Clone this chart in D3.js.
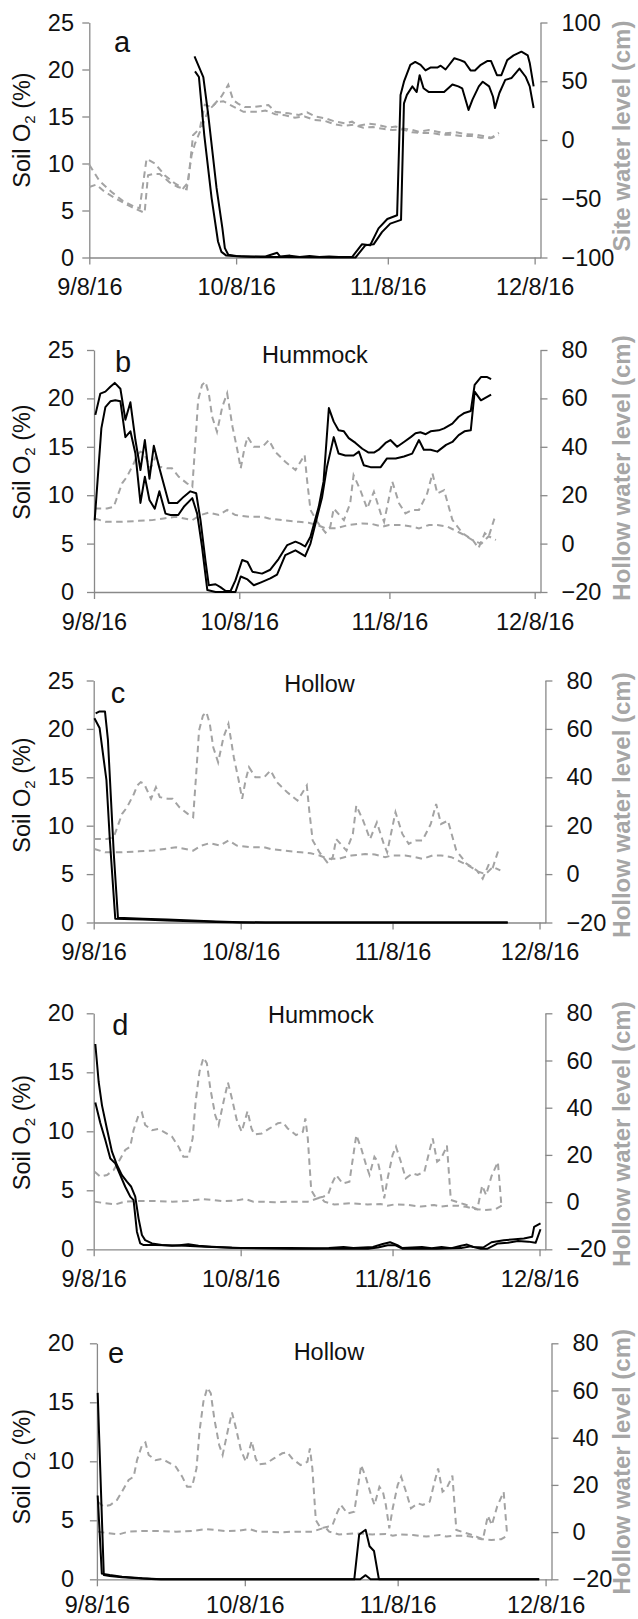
<!DOCTYPE html>
<html>
<head>
<meta charset="utf-8">
<script src="https://cdn.jsdelivr.net/npm/d3@7"></script>
<style>
  body { margin: 0; background: #fff; }
  svg { display: block; font-family: "Liberation Sans", Arial, sans-serif; }
</style>
</head>
<body>
<svg id="fig" width="638" height="1619"></svg>
<script>
// Global settings
let axisGrey = "#898989"
let waterGrey = "#a3a3a3"
let fontSize = 23.5

// x values are days counted from 9/8/16
let startDate = new Date(2016, 8, 8)
let axisDays = 92.2
let dateTicks = ["9/8/16", "10/8/16", "11/8/16", "12/8/16"]
let o2TicksTall = [0, 5, 10, 15, 20, 25]
let o2TicksShort = [0, 5, 10, 15, 20]
let siteTicks = [-100, -50, 0, 50, 100]
let hollowTicks = [-20, 0, 20, 40, 60, 80]

// Panel a: soil O2 (%) and site water level (cm)
let aO2First = [[21.5,21.4],[23.3,19.2],[24.3,15.2],[26,7.4],[27.2,3.1],[27.7,1.0],[28.4,0.3],[30,0.15],[33,0.1],[36,0.1],[38.4,0.5],[39,0.1],[41,0.2],[43,0.05],[45,0.15],[47,0.05],[49,0.1],[51,0.05],[53.7,0.05],[55.7,1.4],[57.4,1.3],[59.1,3.1],[60.9,4.1],[62.9,4.5],[63.6,17.3],[64.3,18.7],[65.6,20.5],[66.6,20.8],[67.7,20.5],[68.7,19.9],[69.7,20.2],[71.1,20.2],[71.8,20.4],[72.8,20.0],[74.6,21.2],[75.8,21.0],[76.7,20.8],[77.9,19.9],[78.8,19.9],[80,20.5],[81.3,20.9],[82.1,20.9],[83.3,19.4],[84.2,19.4],[85.4,21.0],[86.7,21.5],[88.3,21.9],[89.6,21.5],[90,20.7],[90.8,18.2]]
let aO2Second = [[21.6,19.8],[22.4,19.2],[23.5,13.0],[25,6.3],[26.3,1.7],[27,0.6],[28,0.2],[31,0.1],[35,0.05],[40,0.05],[45,0.02],[50,0],[54.4,0],[56.4,1.3],[58.1,1.4],[59.8,2.7],[61.5,3.6],[63.7,4.0],[64.3,16.4],[64.9,17.3],[66,18.2],[66.9,17.6],[67.5,19.4],[68.3,18.0],[69.4,17.6],[70.8,17.6],[72.5,17.6],[74.2,18.4],[75.4,18.2],[76.2,18.0],[77.5,15.7],[78.3,16.8],[79.6,18.2],[80.4,18.7],[81.7,18.2],[82.5,17.1],[82.9,15.9],[83.8,17.5],[85,18.9],[86.3,19.1],[87.9,20.1],[89.2,19.2],[90,18.2],[90.8,15.9]]
let aWaterFirst = [[0,-21],[2.1,-35],[4.5,-44],[6.9,-52],[9.3,-57],[10.3,-58],[11.7,-16],[13.4,-20],[15.4,-30],[17.5,-37],[19.2,-41],[20.2,-36],[21.2,4],[22.6,10],[23.6,30],[25,28],[27,37],[28.4,47],[29.4,34],[30.4,31],[31.8,28],[33.5,28],[36.6,29.8],[38,24.1],[40.7,22.7],[42.8,21.3],[44.5,23.6],[46.2,19.9],[48.2,18.5],[50.3,15.6],[52.3,14.2],[53.7,15.6],[55,12.2],[57.1,13.9],[59.1,12.8],[61.2,10.5],[62.6,11.4],[63.9,9.9],[66,8.5],[67.3,7.1],[69.4,8.5],[71.1,7.1],[72.8,5.7],[75,6.5],[77,5],[79,4.5],[80.5,3.4],[82.2,2],[83.7,6.2]]
let aWaterSecond = [[0,-40],[1.4,-38],[3.1,-44],[5.9,-51],[8.6,-57],[11.3,-62],[12,-30],[13,-29],[14.4,-29],[16.4,-36],[18.1,-40],[19.9,-42],[20.9,-13],[21.6,-3],[22.9,10],[24.3,25],[26,32],[27.4,33],[28.7,30],[30.1,27],[31.5,24],[34.5,24],[36,25],[38,22],[40,21],[42,19],[44,20],[46,17],[48,16.5],[50,13.5],[52,12],[54,13],[56,10.5],[58,11],[60,9.5],[62,8.5],[64,9],[66,6.5],[68,6],[70,6],[72,4.5],[74,4.5],[76,3.5],[78,3.5],[80,2],[82,1.5],[83.7,4]]

// Panel b: hummock O2
let bO2First = [[0.28,18.3],[1.31,20.5],[2.35,20.7],[3.38,21.2],[4.28,21.6],[5.45,21.0],[6.48,17.8],[7.52,19.6],[8.55,15.7],[9.59,12.6],[10.5,15.7],[11.45,11.7],[12.35,15.1],[13.5,12.8],[15.45,9.2],[17.2,9.2],[18.55,9.85],[19.9,10.4],[21.1,10.2],[22,7.4],[23,3.3],[23.7,0.7],[25.1,0.8],[26.1,0.5],[27.2,0.1],[28.2,0.1],[29.2,1.2],[30.6,3.3],[31.7,3.1],[32.7,2.1],[34.7,1.9],[36.4,2.3],[38.1,3.4],[39.9,4.85],[41.6,5.2],[42.6,5.0],[43.6,4.7],[44.7,5.7],[46.4,8.8],[47.4,11.4],[48.5,19.0],[49.5,17.6],[50.5,16.7],[51.6,16.6],[52.6,15.9],[54,15.4],[55.4,14.8],[56.7,14.4],[57.8,14.4],[58.8,14.7],[60.2,15.4],[61.2,15.7],[62.6,15.0],[64,15.5],[65.4,16.0],[66.4,16.4],[67.4,16.5],[68.5,16.3],[69.5,16.6],[71.2,16.7],[72.3,16.9],[74,17.4],[75.3,18.1],[76.5,18.5],[77.8,18.7],[78.6,21.4],[79.9,22.2],[81.2,22.2],[82,22.0]]
let bO2Second = [[0.14,7.4],[1.52,16.9],[2.35,19.1],[3.38,19.7],[4.4,19.8],[5.45,19.7],[6.48,16.0],[7.52,16.6],[8.55,14.3],[9.59,9.2],[10.5,11.9],[11.45,9.5],[12.55,8.6],[13.5,10.4],[14.76,8.1],[15.8,7.95],[17.4,7.95],[18.55,8.8],[20.3,9.7],[21.3,8.1],[22.3,4.7],[23.4,0.2],[25.1,0],[26.8,0],[28.2,0],[29.2,0],[30.3,1.6],[31.7,1.3],[33,0.7],[34.5,1.0],[36.4,1.4],[37.8,1.8],[39.5,3.8],[41.6,4.3],[43.6,3.7],[44.7,5.0],[47.1,9.8],[48.1,12.9],[49.5,16.0],[50.5,14.3],[51.9,14.1],[53.6,14.1],[54.7,14.5],[55.7,13.1],[57.1,12.9],[59.2,12.9],[60.5,13.8],[62.3,13.8],[64,14.0],[65.7,14.3],[67.1,15.7],[68.1,14.7],[69.5,14.7],[70.9,14.5],[72.7,15.2],[74,15.5],[75.3,16.2],[76.5,16.6],[77.8,16.7],[78.6,20.7],[79.9,19.8],[82,20.4]]

// Panels b and c: hollow water level (cm)
let waterBC1 = [[0.14,14.5],[2.7,14.5],[4.07,15.2],[5.8,24.9],[6.8,27.6],[8.2,33.1],[8.9,36.6],[9.6,38],[10.3,37.3],[11.7,31.1],[12.7,35.9],[13.5,31.8],[15.1,31.1],[16.1,31.1],[17.5,27.6],[19.2,24.9],[20.3,23.5],[20.97,42.8],[21.5,59.3],[22.3,65.5],[23.0,66.9],[23.7,62.1],[24.4,52.4],[25.4,46.2],[26.5,56.6],[27.5,62.1],[28.6,48.3],[29.6,38.7],[30.3,31.1],[31,38.7],[31.7,44.2],[33,40],[34.8,40],[36.1,42.8],[37.4,38],[39.5,33.8],[41.6,30.4],[43.5,36.6],[44,26.2],[44.7,13.9],[46.1,9.0],[47.8,4.5],[48.8,7.0],[49.5,14.5],[51.6,9.7],[52.9,16.6],[53.6,28.3],[55,22.1],[56.4,14.5],[57.8,21.4],[59.2,12.5],[59.9,9.0],[61.6,25.6],[63,16.6],[64.3,12.5],[65.7,13.9],[67.1,13.9],[68.8,20.7],[69.9,29.0],[70.9,20.7],[72.3,22.1],[74,9.8],[76.1,4.3],[78.2,1.5],[79.4,-1.9],[80.7,4.3],[81.5,2.9],[82.8,11.1]]
let waterBC2 = [[0.14,10.4],[2.35,9.0],[5.8,9.0],[9.2,9.4],[12,9.7],[14.4,10.4],[16.8,11.1],[20.3,9.7],[22,11.8],[23.7,12.8],[25.8,11.8],[27.5,13.9],[29.2,11.8],[32,11.1],[34.8,11.1],[36.1,10.4],[38.8,9.7],[42.3,9.0],[44.3,8.6],[46.1,7.7],[47.8,6.3],[49.9,6.3],[52.6,7.7],[55.4,8.3],[57.4,8.1],[59.5,7.0],[60.9,7.7],[63.6,7.7],[65.7,7.0],[67.1,6.3],[69.2,7.7],[70.9,7.7],[73,7.0],[74.5,5.5],[76.5,3.5],[78.5,1],[80,0],[81.5,3],[83,1.5]]

// Panel c: hollow O2
let cO2First = [[0.4,21.6],[1.2,21.8],[2.3,21.8],[2.9,18.9],[4.1,7.1],[4.95,0.5],[10,0.4],[15,0.3],[20,0.2],[25,0.1],[30,0.03],[35,0],[84.5,0]]
let cO2Second = [[0.15,21.1],[1.2,20.1],[2.6,14.7],[3.3,8.5],[4.4,0.4],[10,0.3],[15,0.2],[20,0.12],[25,0.05],[30,0],[84.5,0]]

// Panel d: hummock O2
let dO2First = [[0.33,17.4],[1.01,14.2],[1.69,12.2],[2.71,10.2],[3.73,8.27],[4.75,7.14],[5.76,6.29],[6.78,5.73],[7.66,5.3],[8.48,4.46],[9.16,2.6],[9.84,1.21],[10.5,0.78],[11.9,0.5],[13.9,0.36],[16,0.3],[17.5,0.35],[19.3,0.42],[21.4,0.3],[24.1,0.22],[28.2,0.13],[32,0.1],[36,0.1],[40,0.1],[45,0.08],[48,0.1],[51,0.2],[53,0.12],[57,0.2],[59,0.45],[60.5,0.6],[62,0.35],[63,0.1],[65,0.15],[67,0.2],[69,0.1],[71,0.2],[73,0.1],[75,0.3],[76.2,0.4],[77.5,0.2],[79.5,0.15],[81.2,0.6],[83.7,0.77],[85.4,0.83],[87.8,0.92],[89.5,1.06],[89.9,1.9],[91.2,2.2]]
let dO2Second = [[0.33,12.45],[1.35,10.7],[2.37,9.26],[3.39,7.7],[4.4,7.28],[5.42,6.29],[6.44,5.3],[7.46,4.46],[8.14,4.17],[8.82,1.49],[9.5,0.5],[10.2,0.36],[12.6,0.36],[18.7,0.3],[22.7,0.22],[30,0.1],[40,0.05],[50,0.05],[56,0.05],[58,0.15],[60,0.35],[61.5,0.35],[63,0.05],[70,0.05],[75,0.1],[77,0.25],[79,0.05],[80.4,0.05],[82.5,0.5],[84.5,0.55],[86.6,0.7],[88.7,0.65],[90.2,0.55],[91.2,1.7]]

// Panels d and e: hollow water level (cm)
let waterDE1 = [[0.2,12.9],[1.35,10.8],[2.71,11.5],[4.07,13.6],[5.08,17.1],[6.44,22.1],[7.46,23.5],[8.14,30.5],[9.16,36.9],[9.84,38],[10.5,32.7],[11.9,30.5],[13.2,31],[14.3,29.8],[16,27.7],[17.3,23.5],[18.3,19.2],[19.3,19.2],[20.2,27],[20.8,42.5],[21.6,55.3],[22.4,61.2],[23.1,58.8],[23.8,48.2],[24.8,36.9],[25.5,32.7],[26.5,42.5],[27.4,50.7],[28.2,44],[29.2,34.8],[30.2,29.8],[30.9,34.8],[31.4,38.6],[32.2,31.2],[32.8,28.7],[34.3,29.1],[35.9,31.2],[37.6,33.4],[38.6,33.8],[39.6,31.2],[41.3,28.4],[42.7,29.8],[43.2,35.5],[43.7,27],[44.4,5.1],[45.4,1.6],[46.8,2.3],[47.8,3],[48.8,8.6],[49.5,11.5],[50.8,7.9],[52.2,8.6],[52.9,18.5],[53.6,28.4],[54.6,22.8],[55.6,15.7],[56.3,11.5],[57.3,19.2],[58,17.1],[58.6,11.5],[59.3,1.6],[60,10.1],[61,19.9],[61.7,23.5],[62.7,17.1],[63.7,10.1],[65.1,12.2],[66.1,11.5],[67.5,12.9],[68.5,21.4],[69.2,27],[70.1,17.1],[70.9,18.5],[71.9,22.8],[72.1,24],[72.9,0.9],[74.2,0],[75.8,-1],[77.1,-2],[78.3,-3],[79.3,7],[80.1,3],[81.2,11],[82.5,17],[83.2,-1]]
let waterDE2 = [[0.2,0.2],[2.37,-0.5],[4.4,-1],[6.4,0.2],[9.16,0.45],[12.6,0.45],[16,0.2],[19.3,0.45],[22.1,1.3],[24.1,0.9],[26.1,0.45],[28.8,0.6],[30.9,1.3],[32.6,0.2],[34.3,0.2],[36.9,-0.1],[40.3,0.2],[43.7,0.2],[45.75,1.6],[46.4,1.9],[47.1,0.2],[49.1,-1],[52.5,-0.5],[55.9,-1],[58.6,-0.8],[60,-1.5],[61.4,-1],[64.1,-1.2],[66.8,-1.9],[69.5,-1.2],[70.9,-1.9],[72.5,-1.5],[74.5,-1.5],[76,-2],[78,-3],[80,-3.3],[82,-3],[83.3,-1.5]]

// Panel e: hollow O2
let eO2First = [[0.16,15.8],[1.4,0.36],[2.6,0.28],[5.1,0.17],[9.2,0.06],[12,0],[52.2,0],[53.2,3.8],[54.5,4.2],[55.3,2.8],[56.2,2.4],[57.2,0],[89.7,0]]
let eO2Second = [[0.16,7.1],[1.0,0.48],[2.6,0.36],[5.1,0.22],[9.2,0.08],[13,0],[53.4,0],[54.5,0.35],[55.5,0],[89.7,0]]

let panels = [
    { letter: "a", name: "", rightTitle: "Site water level (cm)",
      o2: [aO2First, aO2Second], water: [aWaterFirst, aWaterSecond],
      o2Max: 25, o2Ticks: o2TicksTall, wDomain: [-100, 100], wTicks: siteTicks,
      left: 89.3, right: 540.5, top: 22.5, bottom: 257.5, xPad: 14,
      letterX: 122, letterY: 51.7, nameX: 0, nameY: 0, leftTitleY: 130, rightTitleY: 136 },
    { letter: "b", name: "Hummock", rightTitle: "Hollow water level (cm)",
      o2: [bO2First, bO2Second], water: [waterBC1, waterBC2],
      o2Max: 25, o2Ticks: o2TicksTall, wDomain: [-20, 80], wTicks: hollowTicks,
      left: 94, right: 540.5, top: 350, bottom: 592, xPad: 14,
      letterX: 123, letterY: 372, nameX: 315, nameY: 363.3, leftTitleY: 462, rightTitleY: 468 },
    { letter: "c", name: "Hollow", rightTitle: "Hollow water level (cm)",
      o2: [cO2First, cO2Second], water: [waterBC1, waterBC2],
      o2Max: 25, o2Ticks: o2TicksTall, wDomain: [-20, 80], wTicks: hollowTicks,
      left: 93.7, right: 545.4, top: 680.5, bottom: 922.5, xPad: 14,
      letterX: 118, letterY: 703.3, nameX: 319.5, nameY: 691.7, leftTitleY: 795, rightTitleY: 805 },
    { letter: "d", name: "Hummock", rightTitle: "Hollow water level (cm)",
      o2: [dO2First, dO2Second], water: [waterDE1, waterDE2],
      o2Max: 20, o2Ticks: o2TicksShort, wDomain: [-20, 80], wTicks: hollowTicks,
      left: 93.7, right: 545.4, top: 1013.3, bottom: 1249.3, xPad: 14,
      letterX: 120.3, letterY: 1035, nameX: 320.8, nameY: 1023.3, leftTitleY: 1132.5, rightTitleY: 1134 },
    { letter: "e", name: "Hollow", rightTitle: "Hollow water level (cm)",
      o2: [eO2First, eO2Second], water: [waterDE1, waterDE2],
      o2Max: 20, o2Ticks: o2TicksShort, wDomain: [-20, 80], wTicks: hollowTicks,
      left: 96.9, right: 551.5, top: 1343.3, bottom: 1579.3, xPad: 10.5,
      letterX: 116, letterY: 1363.3, nameX: 328.9, nameY: 1360, leftTitleY: 1466.7, rightTitleY: 1461.7 }
]

let parseDate = d3.timeParse("%m/%d/%y")
let formatDate = d3.timeFormat("%-m/%-d/%y")

function dayToDate(day) {
    return new Date(startDate.getTime() + day * 864e5)
}

function styleAxis(axisG) {
    axisG.attr("font-size", fontSize)
        .attr("font-family", null)
        .attr("color", axisGrey)
    axisG.selectAll("path, line").attr("stroke-width", 1.3)
    axisG.selectAll("text").attr("fill", "#111")
}

function renderPanel(p, svg) {
    let g = svg.append("g")

    let x = d3.scaleTime()
        .domain([startDate, dayToDate(axisDays)])
        .range([p.left, p.right])
    let yO2 = d3.scaleLinear().domain([0, p.o2Max]).range([p.bottom, p.top])
    let yW = d3.scaleLinear().domain(p.wDomain).range([p.bottom, p.top])

    // Axes
    let axL = g.append("g").attr("transform", `translate(${p.left},0)`)
        .call(d3.axisLeft(yO2).tickValues(p.o2Ticks).tickSize(7).tickSizeOuter(0)
            .tickPadding(p.left - 81))
    styleAxis(axL)

    let axR = g.append("g").attr("transform", `translate(${p.right},0)`)
        .call(d3.axisRight(yW).tickValues(p.wTicks).tickSize(7).tickSizeOuter(0)
            .tickPadding(14))
    styleAxis(axR)

    let axB = g.append("g").attr("transform", `translate(0,${p.bottom})`)
        .call(d3.axisBottom(x).tickValues(dateTicks.map(parseDate)).tickFormat(formatDate)
            .tickSize(7).tickSizeOuter(0).tickPadding(p.xPad))
    styleAxis(axB)

    // Water level (dashed grey, right axis)
    let wLine = d3.line()
        .x(d => x(dayToDate(d[0])))
        .y(d => yW(d[1]))
    g.selectAll("path.water")
        .data(p.water)
        .enter()
        .append("path")
        .attr("class", "water")
        .attr("d", wLine)
        .attr("fill", "none")
        .attr("stroke", waterGrey)
        .attr("stroke-width", 2)
        .attr("stroke-dasharray", "6.5,4.5")

    // Soil O2 (black, left axis)
    let oLine = d3.line()
        .x(d => x(dayToDate(d[0])))
        .y(d => yO2(d[1]))
    g.selectAll("path.o2")
        .data(p.o2)
        .enter()
        .append("path")
        .attr("class", "o2")
        .attr("d", oLine)
        .attr("fill", "none")
        .attr("stroke", "#000")
        .attr("stroke-width", 2)
        .attr("stroke-linejoin", "round")

    // Panel letter and site name
    g.append("text")
        .attr("x", p.letterX).attr("y", p.letterY)
        .attr("text-anchor", "middle")
        .attr("font-size", 29)
        .attr("fill", "#111")
        .text(p.letter)
    if (p.name) {
        g.append("text")
            .attr("x", p.nameX).attr("y", p.nameY)
            .attr("text-anchor", "middle")
            .attr("font-size", fontSize)
            .attr("fill", "#111")
            .text(p.name)
    }

    // Axis titles
    let lt = g.append("text")
        .attr("transform", `translate(30,${p.leftTitleY}) rotate(-90)`)
        .attr("text-anchor", "middle")
        .attr("font-size", fontSize)
        .attr("fill", "#111")
    lt.append("tspan").text("Soil O")
    lt.append("tspan").attr("font-size", 15).attr("dy", 5).text("2")
    lt.append("tspan").attr("dy", -5).text(" (%)")

    g.append("text")
        .attr("transform", `translate(630,${p.rightTitleY}) rotate(-90)`)
        .attr("text-anchor", "middle")
        .attr("font-size", 24)
        .attr("font-weight", "bold")
        .attr("fill", "#a6a6a6")
        .text(p.rightTitle)
}

function main() {
    let svg = d3.select("#fig")
    for (let p of panels) renderPanel(p, svg)
}

main();
</script>
</body>
</html>
